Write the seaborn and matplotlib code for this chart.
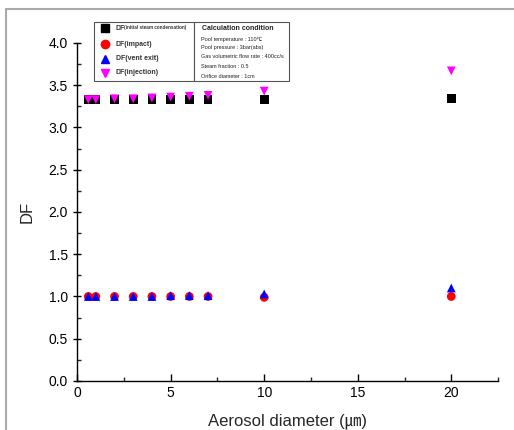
import numpy as np
import pandas as pd
import seaborn as sns
import matplotlib.pyplot as plt
from matplotlib.lines import Line2D
from matplotlib.patches import Rectangle

diameter = [0.6, 1.0, 2, 3, 4, 5, 6, 7, 10, 20]
df_condensation = [3.33, 3.33, 3.33, 3.33, 3.33, 3.33, 3.33, 3.33, 3.33, 3.34]
df_impact = [1.0, 1.0, 1.0, 1.0, 1.0, 1.0, 1.0, 1.0, 0.99, 1.0]
df_vent_exit = [1.0, 1.0, 1.0, 1.0, 1.0, 1.01, 1.01, 1.01, 1.03, 1.10]
df_injection = [3.33, 3.33, 3.34, 3.34, 3.35, 3.36, 3.37, 3.38, 3.43, 3.67]

labels = ['DF(initial steam condensation)', 'DF(impact)', 'DF(vent exit)', 'DF(injection)']
conditions = ['Pool temperature : 110\u2103',
              'Pool pressure : 3bar(abs)',
              'Gas volumetric flow rate : 400cc/s',
              'Steam fraction : 0.5',
              'Orifice diameter : 1cm']

sns.set_style('white')
plt.rcParams['font.family'] = ['Liberation Sans', 'Noto Sans CJK KR', 'DejaVu Sans']

W, H = 514, 430
fig = plt.figure(figsize=(5.14, 4.30), dpi=100)
ax = fig.add_axes([0.150, 0.114, 0.819, 0.786])

series = [(df_condensation, 's', 'black'),
          (df_impact, 'o', 'red'),
          (df_vent_exit, '^', 'blue'),
          (df_injection, 'v', 'magenta')]
for (vals, m, c), lab in zip(series, labels):
    d = pd.DataFrame({'x': diameter, 'y': vals})
    sns.scatterplot(data=d, x='x', y='y', marker=m, color=c, s=40,
                    edgecolor='none', label=lab, ax=ax, legend=False)

ax.set_xlim(0, 22.5)
ax.set_ylim(0, 4.0)
ax.set_xticks([0, 5, 10, 15, 20])
ax.set_xticks([2.5, 7.5, 12.5, 17.5, 22.5], minor=True)
ax.set_yticks(np.arange(0, 4.01, 0.5))
ax.set_yticks(np.arange(0.25, 4.0, 0.5), minor=True)
ax.yaxis.set_major_formatter(plt.FormatStrFormatter('%.1f'))
for s in ['top', 'right']:
    ax.spines[s].set_visible(False)
for s in ['left', 'bottom']:
    ax.spines[s].set_color('black')
    ax.spines[s].set_linewidth(1.0)
ax.tick_params(axis='both', which='major', direction='in', length=5, width=1,
               labelsize=10, colors='black', left=True, bottom=True)
ax.tick_params(axis='y', which='major', direction='inout', length=6)
ax.tick_params(axis='both', which='minor', direction='in', length=3, width=1,
               left=True, bottom=True)
ax.set_xlabel('Aerosol diameter (\u339b)', fontsize=12, labelpad=10)
ax.set_ylabel('DF', fontsize=12, labelpad=10)

# legend box (markers) and calculation condition box, pixel positions
def fx(px):
    return px / W

def fy(py):
    return 1 - py / H

box_top, box_bot = 22, 81
for x0, x1 in [(94, 194), (194, 289)]:
    fig.add_artist(Rectangle((fx(x0), fy(box_bot)), fx(x1) - fx(x0), fy(box_top) - fy(box_bot),
                             transform=fig.transFigure, facecolor='white',
                             edgecolor='#555555', linewidth=0.8, zorder=5))

rows = [28, 44, 59, 73]
for (_, m, c), lab, ry in zip(series, labels, rows):
    fig.add_artist(Line2D([fx(105)], [fy(ry)], marker=m, color=c, markersize=6,
                          linestyle='none', transform=fig.transFigure, zorder=6))
    if lab.startswith('DF(initial'):
        t = fig.text(fx(116), fy(ry), 'DF', fontsize=5, fontweight='bold',
                     va='center', color='#333333', zorder=6)
        fig.text(fx(124), fy(ry), '(initial steam condensation)', fontsize=3.3,
                 fontweight='bold', va='center', color='#333333', zorder=6)
    else:
        fig.text(fx(116), fy(ry), lab, fontsize=5, fontweight='bold',
                 va='center', color='#333333', zorder=6)

fig.text(fx(202), fy(29), 'Calculation condition', fontsize=5, fontweight='bold',
         va='center', color='#222222', zorder=6)
for py, c in zip([39, 48, 57, 66, 76], conditions):
    fig.text(fx(201), fy(py), c, fontsize=4, va='center', color='#222222', zorder=6)

# outer frame
fig.add_artist(Line2D([0.012, 1.0], [0.979, 0.979], color='#aaaaaa', lw=1.5,
                      transform=fig.transFigure))
fig.add_artist(Line2D([0.012, 0.012], [0.0, 0.979], color='#aaaaaa', lw=1.5,
                      transform=fig.transFigure))

fig.savefig('out.png', dpi=100)
